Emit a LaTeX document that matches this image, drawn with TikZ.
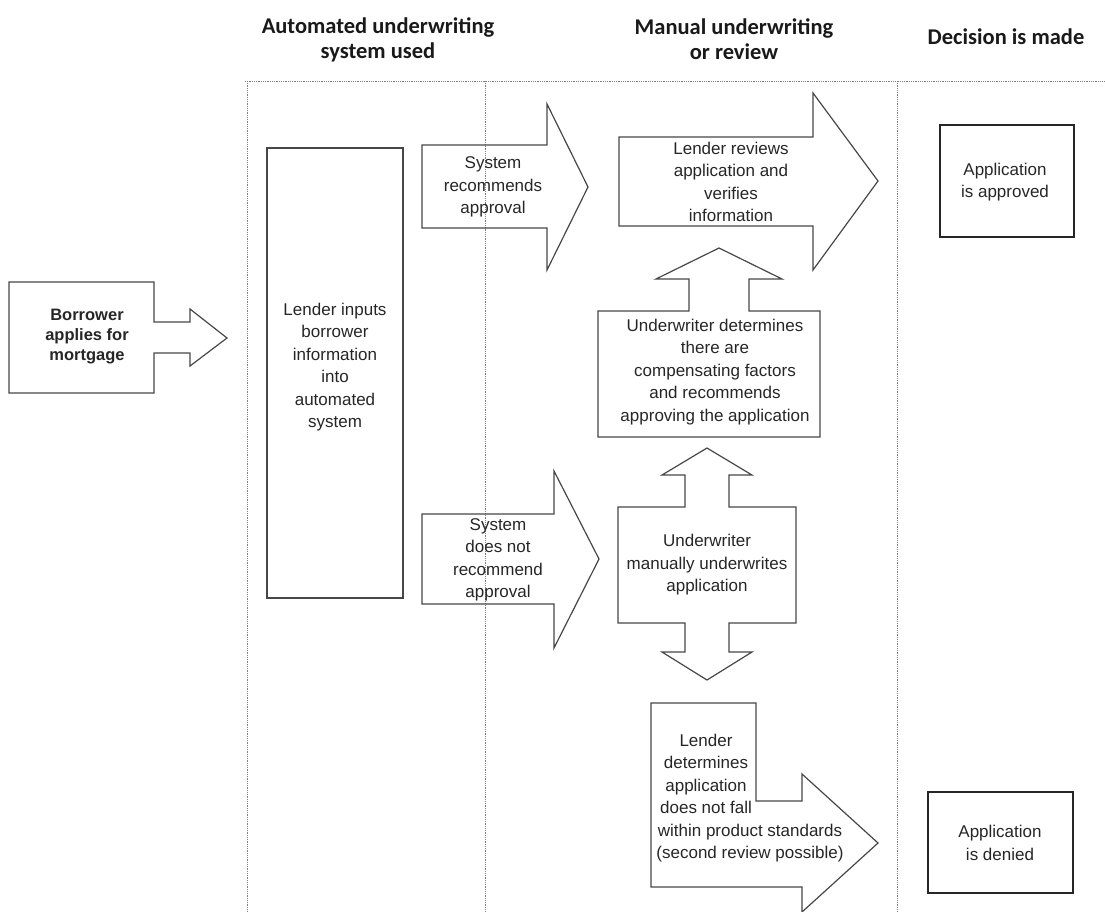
\documentclass[tikz,border=0pt]{standalone}
\usepackage{fontspec}
\setmainfont{Liberation Sans}
\newfontfamily\headfont{Carlito}
\begin{document}
\begin{tikzpicture}[x=1pt,y=-1pt,
  outline/.style={draw=black!72, line width=1.2pt, line join=miter},
  decbox/.style={draw=black!85, line width=1.5pt},
  lane/.style={draw=black!50, line width=1pt, dash pattern=on 1pt off 0.8pt},
  head/.style={font=\headfont\bfseries\fontsize{22.5}{25}\selectfont, align=center, text=black!90, inner sep=0pt},
  body/.style={font=\fontsize{17}{22.5}\selectfont, align=center, text=black!85, inner sep=0pt},
  bodybold/.style={font=\bfseries\fontsize{16.5}{20}\selectfont, align=center, text=black!85, inner sep=0pt}]

\path[use as bounding box] (0,0) rectangle (1105,911);
\clip (0,0) rectangle (1105,911);

% swim lanes
\draw[lane] (245,81) -- (1105,81);
\draw[lane] (247,81) -- (247,911);
\draw[lane] (485,81) -- (485,911);
\draw[lane] (897,81) -- (897,911);

% column headings
\node[head] (hAuto) at (378,39.5) {Automated underwriting\\system used};
\node[head] (hManual) at (734,39.5) {Manual underwriting\\or review};
\node[head] (hDecision) at (1006,37) {Decision is made};

% borrower applies
\draw[outline] (9,282) -- (154,282) -- (154,322) -- (190,322) -- (190,309)
  -- (227,338) -- (190,366) -- (190,353) -- (154,353) -- (154,393) -- (9,393) -- cycle;
\node[bodybold] (borrower) at (87,337) {Borrower\\applies for\\mortgage};

% lender inputs into automated system
\draw[outline] (267,148) rectangle (403,598);
\node[body] (inputs) at (335,367) {Lender inputs\\borrower\\information\\into\\automated\\system};

% system recommends approval
\draw[outline] (422,145) -- (547,145) -- (547,104) -- (588,187) -- (547,270)
  -- (547,228) -- (422,228) -- cycle;
\node[body] (sysYes) at (493,187) {System\\recommends\\approval};

% lender reviews
\draw[outline] (619,137) -- (813,137) -- (813,93) -- (878,181) -- (813,270)
  -- (813,226) -- (619,226) -- cycle;
\node[body] (reviews) at (731,182) {Lender reviews\\application and\\verifies\\information};

% compensating factors, pointing up
\draw[outline] (598,311) -- (689,311) -- (689,279) -- (656,279) -- (719,248)
  -- (782,279) -- (749,279) -- (749,311) -- (820,311) -- (820,437) -- (598,437) -- cycle;
\node[body] (compensate) at (715,372) {Underwriter determines\\there are\\compensating factors\\and recommends\\approving the application};

% system does not recommend approval
\draw[outline] (422,514) -- (554,514) -- (554,471) -- (599,559) -- (554,648)
  -- (554,604) -- (422,604) -- cycle;
\node[body] (sysNo) at (498,560) {System\\does not\\recommend\\approval};

% manual underwriting, pointing up and down
\draw[outline] (618,507) -- (685,507) -- (685,475) -- (662,475) -- (707,448)
  -- (752,475) -- (729,475) -- (729,507) -- (796,507) -- (796,623) -- (729,623)
  -- (729,652) -- (752,652) -- (707,680) -- (662,652) -- (685,652) -- (685,623)
  -- (618,623) -- cycle;
\node[body] (manual) at (707,565) {Underwriter\\manually underwrites\\application};

% lender determines, bent arrow
\draw[outline] (651,703) -- (756,703) -- (756,801) -- (802,801) -- (802,774)
  -- (878,843) -- (802,912) -- (802,887) -- (651,887) -- cycle;
\node[body] (standards) at (750,798) {Lender\rule{88pt}{0pt}\\determines\rule{88pt}{0pt}\\application\rule{88pt}{0pt}\\does not fall\rule{88pt}{0pt}\\within product standards\\(second review possible)};

% decisions
\draw[decbox] (940,125) rectangle (1074,237);
\node[body] (approved) at (1005,182) {Application\\is approved};
\draw[decbox] (928,792) rectangle (1073,893);
\node[body] (denied) at (1000,843) {Application\\is denied};

\end{tikzpicture}
\end{document}
